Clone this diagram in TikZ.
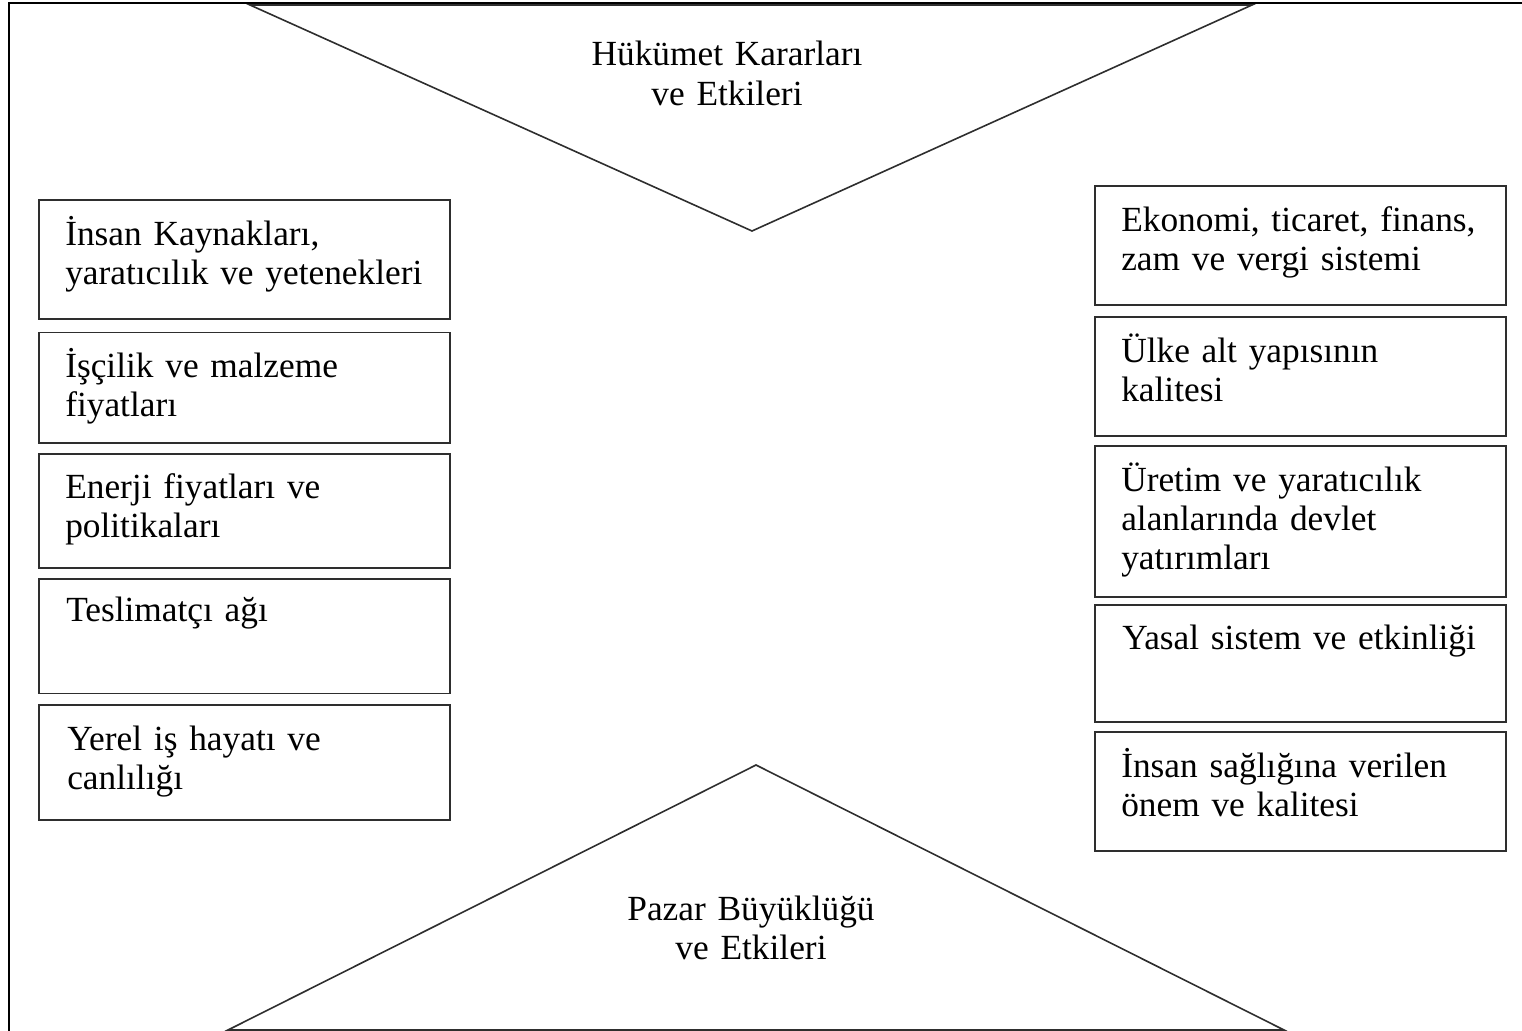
\documentclass[tikz,border=0pt]{standalone}
\usepackage{fontspec}
\setmainfont{Liberation Serif}
\usetikzlibrary{positioning}
\definecolor{ink}{HTML}{2E2E2E}
\newcommand\boxfont{\fontsize{26.5}{29.3}\selectfont\spaceskip=0.2em plus 0.1em minus 0.05em\relax}

\begin{document}
\begin{tikzpicture}[x=0.75pt,y=-0.75pt,
  node distance=8pt,
  cell/.style={draw=ink,line width=1.4pt,minimum width=308pt,inner sep=0pt},
  txt/.style={anchor=base west,align=left,text width=290pt,inner sep=0pt,font=\boxfont},
  head/.style={anchor=base,align=center,text width=300pt,inner sep=0pt,font=\boxfont},
  tri/.style={draw=ink,line width=1.2pt,line join=miter}]
  \useasboundingbox (0,0) rectangle (1522,1031);
  % frame
  \draw[line width=1.4pt] (9,1031) -- (9,3) -- (1522,3);
  % the two triangles
  \draw[tri] (250,5) -- (752,231) -- (1252,5) -- cycle;
  \draw[tri] (228,1030) -- (756,765) -- (1284,1030) -- cycle;
  \node[head] (gov) at (727,66) {Hükümet Kararları\\ve Etkileri};
  \node[head] (mkt) at (751,920) {Pazar Büyüklüğü\\ve Etkileri};
  % left column
  \node[cell,anchor=north west,minimum height=89pt] (l1) at (38,199) {};
  \node[cell,below=9pt of l1,minimum height=83pt] (l2) {};
  \node[cell,below=6.5pt of l2,minimum height=86pt] (l3) {};
  \node[cell,below=6.5pt of l3,minimum height=86pt] (l4) {};
  \node[cell,below=7.2pt of l4,minimum height=86pt] (l5) {};
  % right column
  \node[cell,anchor=north west,minimum height=89pt] (r1) at (1094,185) {};
  \node[cell,below=8pt of r1,minimum height=89pt] (r2) {};
  \node[cell,below=6.5pt of r2,minimum height=113pt] (r3) {};
  \node[cell,below=4.5pt of r3,minimum height=88pt] (r4) {};
  \node[cell,below=6.2pt of r4,minimum height=89pt] (r5) {};
  % texts
  \node[txt] (tl1) at ([shift={(27,46)}]l1.north west) {İnsan Kaynakları,\\yaratıcılık ve yetenekleri};
  \node[txt] (tl2) at ([shift={(27,46)}]l2.north west) {İşçilik ve malzeme\\fiyatları};
  \node[txt] (tl3) at ([shift={(27,46)}]l3.north west) {Enerji fiyatları ve\\politikaları};
  \node[txt] (tl4) at ([shift={(28,44)}]l4.north west) {Teslimatçı ağı};
  \node[txt] (tl5) at ([shift={(29,46)}]l5.north west) {Yerel iş hayatı ve\\canlılığı};
  \node[txt] (tr1) at ([shift={(27,46)}]r1.north west) {Ekonomi, ticaret, finans,\\zam ve vergi sistemi};
  \node[txt] (tr2) at ([shift={(27,46)}]r2.north west) {Ülke alt yapısının\\kalitesi};
  \node[txt] (tr3) at ([shift={(27,46)}]r3.north west) {Üretim ve yaratıcılık\\alanlarında devlet\\yatırımları};
  \node[txt] (tr4) at ([shift={(28,46)}]r4.north west) {Yasal sistem ve etkinliği};
  \node[txt] (tr5) at ([shift={(27,46)}]r5.north west) {İnsan sağlığına verilen\\önem ve kalitesi};
\end{tikzpicture}
\end{document}
